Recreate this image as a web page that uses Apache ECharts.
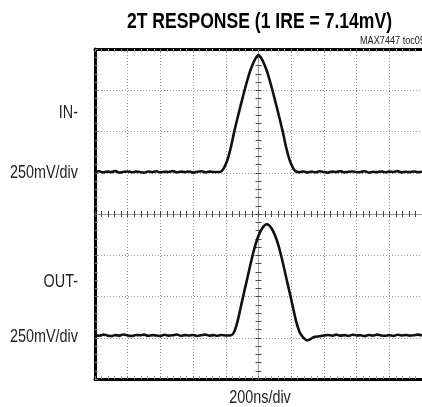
<!DOCTYPE html>
<html><head><meta charset="utf-8">
<script src="https://cdn.jsdelivr.net/npm/echarts@6/dist/echarts.min.js"></script>
<style>html,body{margin:0;padding:0;background:#fff}#c{width:422px;height:407px}</style>
</head><body><div id="c"></div>
<script>
// ---- data (time in ns, screen value in mV; IN trace offset +1 div, OUT trace offset -3 div) ----
const inTime = [-1000,-975,-950,-925,-900,-875,-850,-825,-800,-775,-750,-725,-700,-675,-650,-625,-600,-575,-550,-525,-500,-475,-450,-425,-400,-375,-350,-325,-300,-275,-250,
  -235,-225,-210,-190,-170,-149,-120,-100,-82,-65,-50,-25,0,25,50,65,82,100,120,149,170,190,210,225,239,
  250,275,300,325,350,375,400,425,450,475,500,525,550,575,600,625,650,675,700,725,750,775,800,825,850,875,900,925,950,975,1000];
const inValue = [255,259,252,257,254,260,251,256,258,253,257,255,250,258,254,259,252,256,255,260,253,257,254,258,251,256,259,253,257,255,255,
  255,261,281,328,400,496,615,693,762,822,870,930,963,930,870,822,762,693,615,496,400,328,281,261,255,
  254,258,252,257,253,259,255,251,257,254,260,252,256,258,253,255,259,251,256,254,258,253,257,255,260,252,256,254,258,253,256];
const outTime = [-1000,-975,-950,-925,-900,-875,-850,-825,-800,-775,-750,-725,-700,-675,-650,-625,-600,-575,-550,-525,-500,-475,-450,-425,-400,-375,-350,-325,-300,-275,-250,-225,-200,
  -167,-149,-129,-109,-97,-69,-36,-9,21,51,81,111,138,171,199,211,231,251,265,280,296,315,340,
  375,400,425,450,475,500,525,550,575,600,625,650,675,700,725,750,775,800,825,850,875,900,925,950,975,1000];
const outValue = [-733,-738,-731,-736,-740,-734,-737,-730,-736,-739,-733,-735,-731,-738,-734,-736,-740,-732,-737,-735,-730,-738,-734,-736,-733,-739,-735,-731,-737,-734,-738,-733,-736,
  -735,-715,-654,-567,-513,-392,-250,-156,-89,-62,-89,-156,-250,-392,-513,-567,-654,-715,-738,-755,-766,-760,-745,
  -741,-736,-733,-738,-731,-737,-734,-739,-732,-736,-735,-740,-733,-737,-731,-736,-738,-734,-739,-732,-736,-733,-737,-735,-731,-736];
const xTicks = {min: -1000, max: 1000, interval: 200};
const yTicks = {min: -1000, max: 1000, interval: 250};
const titleText = '2T RESPONSE (1 IRE = 7.14mV)';
const noteText = 'MAX7447 toc05';
const sideLabels = [['IN-', 113], ['250mV/div', 173], ['OUT-', 282], ['250mV/div', 337]];
const xName = '200ns/div';

const zip = (a, b) => a.map((t, i) => [t, b[i]]);
const FONT = '"Liberation Sans",Arial,sans-serif';
const ctx = document.createElement('canvas').getContext('2d');
function fitScale(text, font, targetWidth) {
  ctx.font = font;
  return targetWidth / ctx.measureText(text).width;
}
const titleFont = 'bold 22px ' + FONT;
const titleScale = fitScale(titleText, titleFont, 265);
const labelFont = '18px ' + FONT;
const labelScale = fitScale('250mV/div', labelFont, 68);
const noteFont = '11px ' + FONT;
const noteScale = fitScale(noteText, noteFont, 65);

const frameAxis = (pos, showLine) => {
  const isY = pos === 'left' || pos === 'right';
  return {
    type: 'value', position: pos,
    min: isY ? yTicks.min : xTicks.min, max: isY ? yTicks.max : xTicks.max,
    interval: isY ? yTicks.interval : xTicks.interval,
    axisLine: {show: showLine, onZero: false, lineStyle: {color: '#000', width: 3}},
    axisTick: {show: showLine, inside: true, length: 3, lineStyle: {color: '#777'}},
    minorTick: {show: showLine, splitNumber: 5, length: 3, lineStyle: {color: '#999'}},
    axisLabel: {show: false},
    splitLine: {show: pos === 'bottom' || pos === 'left', lineStyle: {color: '#9a9a9a', type: [1, 2], width: 1}},
    minorSplitLine: {show: false}
  };
};
const centerAxis = (pos, inside, isY) => ({
  type: 'value', position: pos,
  min: isY ? yTicks.min : xTicks.min, max: isY ? yTicks.max : xTicks.max,
  interval: isY ? yTicks.interval : xTicks.interval,
  axisLine: {show: true, onZero: true, onZeroAxisIndex: 0, lineStyle: {color: '#999', width: 1, type: [1, 1]}},
  axisTick: {show: true, inside: inside, length: 3, lineStyle: {color: '#444'}},
  minorTick: {show: true, splitNumber: 5, length: 3, lineStyle: {color: '#444'}},
  axisLabel: {show: false}, splitLine: {show: false}
});

const xAxes = [frameAxis('bottom', true), frameAxis('top', true), centerAxis('bottom', false, false), centerAxis('bottom', true, false)];
const yAxes = [frameAxis('left', true), frameAxis('right', false), centerAxis('left', false, true), centerAxis('left', true, true)];

const textEl = (text, x, y, font, scale, align, fill) => ({
  type: 'text', x: x, y: y, scaleX: scale,
  style: {text: text, font: font, fill: fill, textAlign: align, align: align,
    textVerticalAlign: 'middle', verticalAlign: 'middle'}
});

const chart = echarts.init(document.getElementById('c'), null, {renderer: 'canvas'});
chart.setOption({
  animation: false,
  grid: {left: 95, top: 49, width: 332, height: 330, containLabel: false},
  xAxis: xAxes,
  yAxis: yAxes,
  series: [
    {type: 'line', xAxisIndex: 0, yAxisIndex: 0, data: zip(inTime, inValue), showSymbol: false, smooth: 0.3,
      lineStyle: {color: '#111', width: 2.6}, z: 5},
    {type: 'line', xAxisIndex: 0, yAxisIndex: 0, data: zip(outTime, outValue), showSymbol: false, smooth: 0.3,
      lineStyle: {color: '#111', width: 2.6}, z: 5}
  ],
  graphic: [
    textEl(titleText, 259.5, 21.7, titleFont, titleScale, 'center', '#000'),
    textEl(noteText, 360, 40.5, noteFont, noteScale, 'left', '#222'),
    textEl(xName, 260, 398, labelFont, labelScale, 'center', '#222')
  ].concat(sideLabels.map(([t, y]) => textEl(t, 78, y, labelFont, labelScale, 'right', '#222')))
});
</script></body></html>
